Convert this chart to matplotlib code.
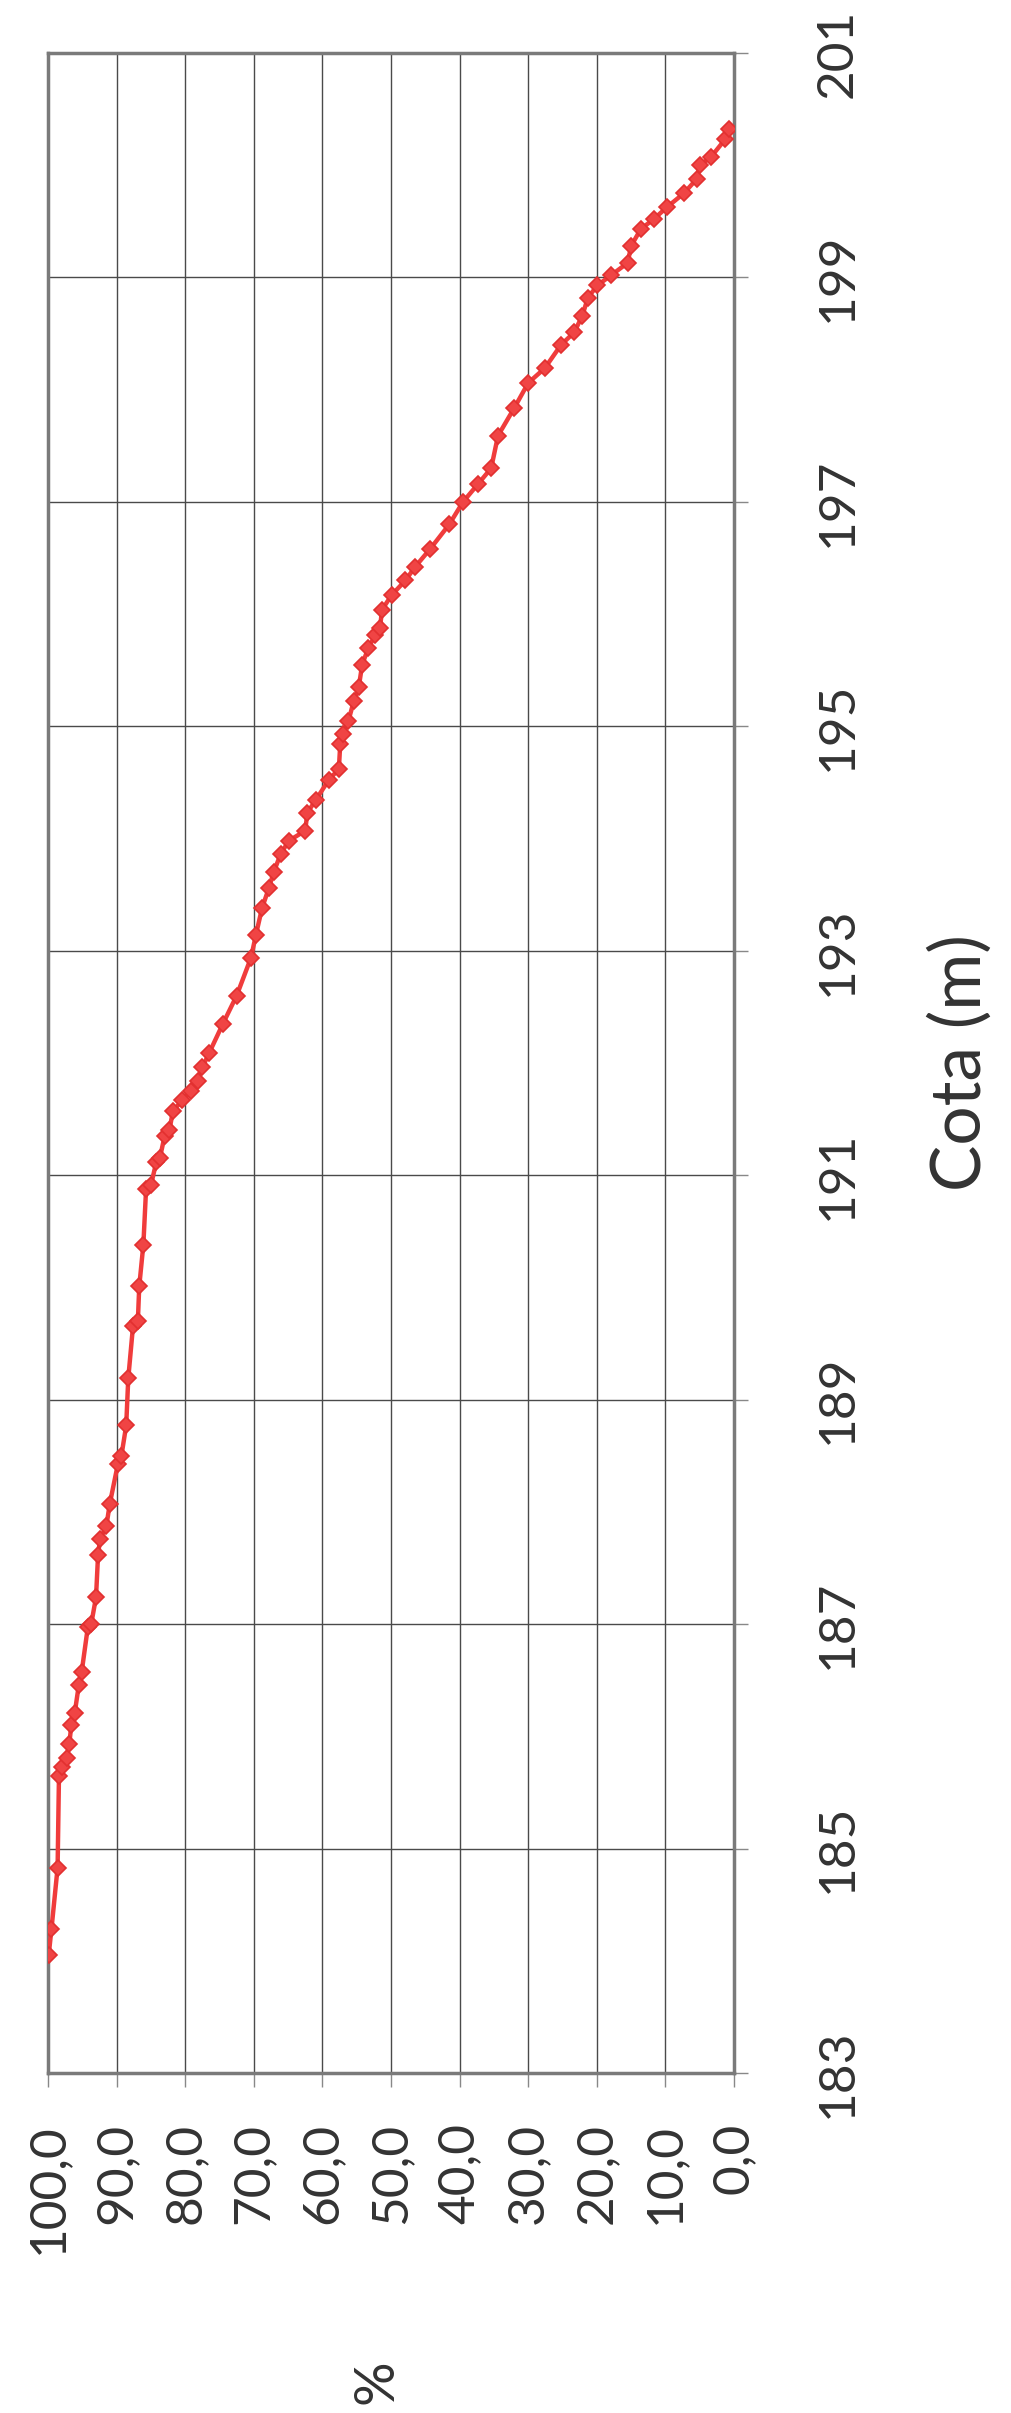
import matplotlib
matplotlib.use("Agg")
import matplotlib.pyplot as plt
from matplotlib.ticker import FixedLocator, FuncFormatter

# cota (m) and %, bottom to top
cota = [184.05, 184.28, 184.83, 185.65, 185.73, 185.81, 185.93, 186.10, 186.21,
        186.46, 186.57, 186.97, 187.00, 187.24, 187.62, 187.76, 187.87, 188.07,
        188.43, 188.50, 188.77, 189.19, 189.66, 189.70, 190.01, 190.38, 190.88,
        190.91, 191.12, 191.15, 191.35, 191.40, 191.57, 191.67, 191.75, 191.84,
        191.96, 192.09, 192.35, 192.60, 192.94, 193.14, 193.38, 193.56, 193.70,
        193.86, 193.98, 194.07, 194.23, 194.34, 194.52, 194.62, 194.84, 194.93,
        195.05, 195.23, 195.35, 195.55, 195.70, 195.81, 195.88, 196.04, 196.17,
        196.30, 196.42, 196.58, 196.80, 197.00, 197.16, 197.30, 197.59, 197.84,
        198.06, 198.19, 198.40, 198.51, 198.66, 198.82, 198.93, 199.02, 199.13,
        199.28, 199.43, 199.52, 199.63, 199.75, 199.88, 200.00, 200.07, 200.23,
        200.32]
pct = [99.9, 99.5, 98.6, 98.4, 98.0, 97.3, 96.9, 96.6, 96.1,
       95.5, 95.1, 94.2, 93.7, 93.0, 92.7, 92.4, 91.5, 91.0,
       89.8, 89.3, 88.6, 88.3, 87.6, 86.9, 86.7, 86.1, 85.7,
       85.0, 84.2, 83.7, 83.0, 82.3, 81.8, 80.4, 79.1, 78.2,
       77.5, 76.5, 74.5, 72.5, 70.4, 69.7, 68.8, 67.8, 67.1,
       66.1, 64.9, 62.5, 62.2, 61.0, 59.1, 57.6, 57.4, 57.0,
       56.2, 55.4, 54.7, 54.2, 53.3, 52.3, 51.6, 51.3, 49.9,
       47.9, 46.5, 44.3, 41.5, 39.5, 37.3, 35.4, 34.4, 32.0,
       30.0, 27.6, 25.2, 23.3, 22.1, 21.3, 19.9, 17.9, 15.5,
       15.0, 13.6, 11.7, 9.7, 7.3, 5.4, 5.0, 3.4, 1.3,
       0.8]

pct_ticks = [0, 10, 20, 30, 40, 50, 60, 70, 80, 90, 100]
cota_ticks = [183, 185, 187, 189, 191, 193, 195, 197, 199, 201]

plt.rcParams['font.family'] = ['Lato', 'DejaVu Sans']

W, H = 1011, 2413
fig = plt.figure(figsize=(W / 100, H / 100), dpi=100)
ax = fig.add_axes([48 / W, 1 - 2073 / H, 686 / W, 2020 / H])

ax.plot(pct, cota, color='#f03c3c', lw=3.2, marker='D', ms=8.5,
        mfc='#f04444', mec='#e23030', mew=1.2, zorder=3)

ax.set_xlim(100, 0)
ax.set_ylim(183, 201)
ax.xaxis.set_major_locator(FixedLocator(pct_ticks))
ax.yaxis.set_major_locator(FixedLocator(cota_ticks))
ax.xaxis.set_major_formatter(FuncFormatter(lambda v, p: f"{v:.1f}".replace('.', ',')))
ax.yaxis.set_major_formatter(FuncFormatter(lambda v, p: f"{v:.0f}"))

ax.grid(True, color='#4a4a4a', lw=1.0)
for s in ax.spines.values():
    s.set_color('#7a7a7a')
    s.set_linewidth(2.5)

ax.yaxis.tick_right()
ax.tick_params(axis='x', direction='out', length=10, width=1, color='#888888',
               labelsize=37, pad=26, labelrotation=90, labelcolor='#333333')
ax.tick_params(axis='y', direction='out', length=10, width=1, color='#888888',
               labelsize=37, pad=48, labelrotation=90, labelcolor='#333333')
for t in ax.get_yticklabels():
    t.set_verticalalignment('center')

ax.set_xlabel('%', fontsize=40, rotation=90, color='#333333', va='center')
ax.xaxis.set_label_coords(0.48, -0.153)
ax.yaxis.set_label_position('right')
ax.set_ylabel('Cota (m)', fontsize=50, rotation=90, color='#333333',
              va='center', ha='center')
ax.yaxis.set_label_coords(1.33, 0.5)

fig.savefig('out.png', dpi=100, facecolor='white')
